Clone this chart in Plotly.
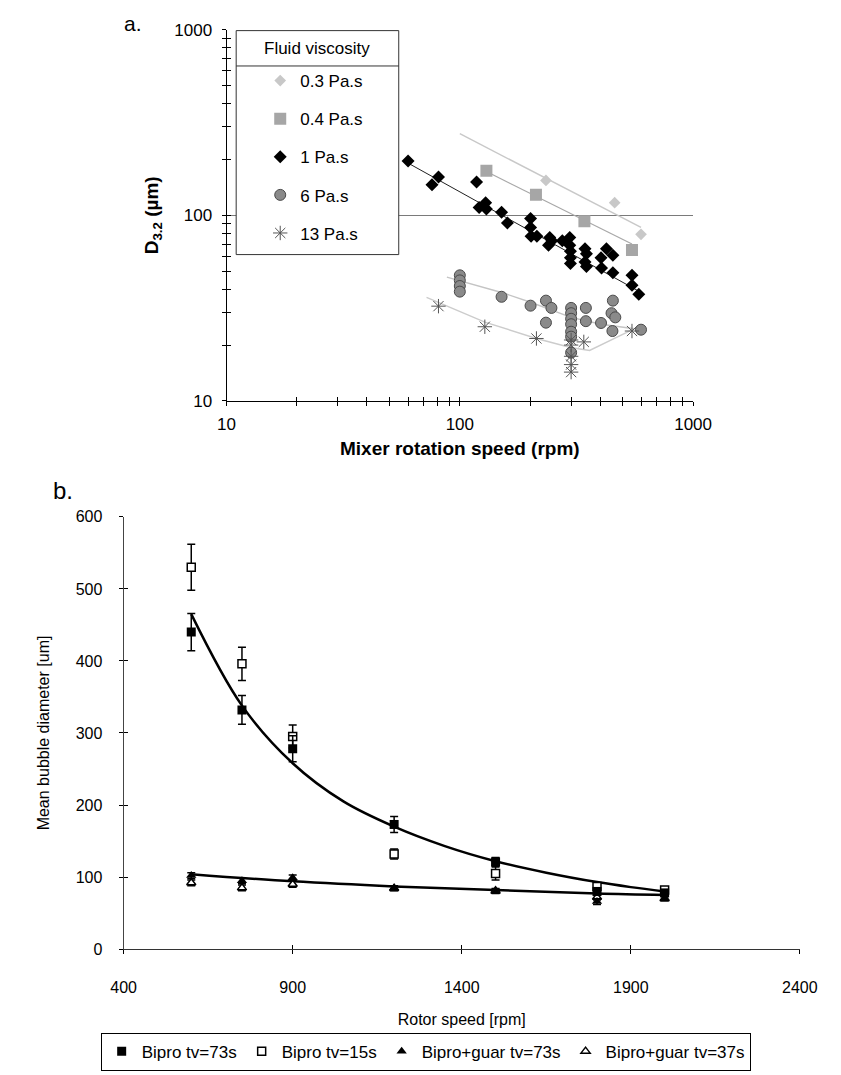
import plotly.graph_objects as go

# ---------------- Panel a data (log-log) ----------------
v03_x = [234, 461, 598]
v03_y = [154, 117, 79]
v03_fit_x = [100, 598]
v03_fit_y = [275, 86]

v04_x = [130, 212, 342, 547]
v04_y = [174, 129, 93, 65]
v04_fit_x = [130, 547]
v04_fit_y = [172, 70]

v1_x = [60, 76, 81, 118, 121, 129, 130, 151, 160, 201, 201, 202, 214, 243, 248, 240,
        275, 296, 296, 298, 298, 298, 344, 349, 344, 349, 403, 425, 453, 405, 453, 547, 547, 585]
v1_y = [196, 146, 161, 151, 110, 117, 108, 104, 91, 96, 86, 77, 77, 76, 73, 69,
        73, 76, 69, 64, 59, 55, 66, 62, 56, 53, 59, 66, 61, 52, 49, 47.5, 42, 37.6]
v1_fit_x = [60, 585]
v1_fit_y = [191, 39]

v6_x = [100, 100, 100, 100, 151, 201, 234, 247, 234, 300, 300, 300, 300, 300, 300, 300,
        347, 347, 403, 453, 447, 464, 451, 598]
v6_y = [47.5, 44.6, 41.6, 38.8, 36.4, 32.6, 34.7, 31.7, 26.4, 31.7, 29.7, 27.7, 25.9, 23.6, 22.2, 18.2,
        31.7, 26.9, 26.3, 34.7, 29.7, 28.2, 23.8, 24.2]
v6_fit_x = [88, 151, 201, 300, 403, 561]
v6_fit_y = [46.4, 38.4, 34.0, 28.2, 25.9, 24.5]

v13_x = [81, 128, 213, 300, 300, 300, 300, 300, 340, 547]
v13_y = [32.4, 25.1, 21.7, 21.3, 20.0, 17.4, 15.7, 14.3, 20.8, 23.8]
v13_fit_x = [72, 128, 213, 298, 360, 561]
v13_fit_y = [36.1, 26.6, 21.7, 19.4, 18.7, 24.5]

a_major = [10, 100, 1000]
a_major_text = ["10", "100", "1000"]
a_all_ticks = [10, 20, 30, 40, 50, 60, 70, 80, 90, 100, 200, 300, 400, 500, 600, 700, 800, 900, 1000]
a_grid = [100, 1000]

# ---------------- Panel b data ----------------
rpm = [600, 750, 900, 1200, 1500, 1800, 2000]
bipro73 = [440, 332, 278, 173, 121, 80, 78]
bipro73_err = [26, 20, 18, 11, 6, 5, 4]
bipro15 = [530, 396, 295, 132, 105, 87, 82]
bipro15_err = [32, 23, 16, 7, 9, 5, 4]
guar73 = [102, 95, 99, 85, 80, 66, 71]
guar73_err = [4, 4, 4, 3, 3, 4, 3]
guar37 = [92, 85, 90, 84, 81, 72, 70]
guar37_err = [4, 4, 4, 3, 3, 4, 3]

fit_rpm = [600, 750, 900, 1050, 1200, 1350, 1500, 1650, 1800, 1900, 2000]
fit_bipro = [465, 338, 258, 205, 170, 143, 122, 106, 93, 86, 80]
fit_guar_rpm = [600, 900, 1200, 1500, 1800, 2000]
fit_guar = [104, 94, 87, 82, 77, 75]

b_xticks = [400, 900, 1400, 1900, 2400]
b_yticks = [0, 100, 200, 300, 400, 500, 600]

W, H = 841, 1075
FA = "Liberation Sans, Arial, sans-serif"
FB = "Liberation Sans Narrow, Liberation Sans, Arial, sans-serif"

def px(x):
    return x / W

def py(y):
    return 1 - y / H

fig = go.Figure()

# ---- panel a traces ----
def fit_line(xs, ys, color, width):
    fig.add_trace(go.Scatter(x=xs, y=ys, mode="lines", line=dict(color=color, width=width),
                             showlegend=False, hoverinfo="skip", xaxis="x", yaxis="y"))

fit_line(v03_fit_x, v03_fit_y, "#c8c8c8", 1.4)
fit_line(v04_fit_x, v04_fit_y, "#a8a8a8", 1.2)
fit_line(v1_fit_x, v1_fit_y, "#202020", 1.0)
fit_line(v6_fit_x, v6_fit_y, "#c4c4c4", 1.4)
fit_line(v13_fit_x, v13_fit_y, "#cccccc", 1.4)

fig.add_trace(go.Scatter(x=v03_x, y=v03_y, mode="markers", name="0.3 Pa.s", legendgroup="g1",
                         marker=dict(symbol="diamond", size=9, color="#c8c8c8"), xaxis="x", yaxis="y"))
fig.add_trace(go.Scatter(x=v04_x, y=v04_y, mode="markers", name="0.4 Pa.s", legendgroup="g2",
                         marker=dict(symbol="square", size=12, color="#a6a6a6"), xaxis="x", yaxis="y"))
fig.add_trace(go.Scatter(x=v1_x, y=v1_y, mode="markers", name="1 Pa.s", legendgroup="g3",
                         marker=dict(symbol="diamond", size=10, color="#000000"), xaxis="x", yaxis="y"))
fig.add_trace(go.Scatter(x=v6_x, y=v6_y, mode="markers", name="6 Pa.s", legendgroup="g4",
                         marker=dict(symbol="circle", size=11, color="#8a8a8a",
                                     line=dict(color="#4a4a4a", width=1)), xaxis="x", yaxis="y"))
fig.add_trace(go.Scatter(x=v13_x, y=v13_y, mode="markers", name="13 Pa.s", legendgroup="g5",
                         marker=dict(symbol="asterisk-open", size=12, color="#555555",
                                     line=dict(color="#555555", width=1)), xaxis="x", yaxis="y"))

# ---- panel b traces ----
fig.add_trace(go.Scatter(x=fit_rpm, y=fit_bipro, mode="lines", line=dict(color="black", width=2.5, shape="spline"),
                         showlegend=False, hoverinfo="skip", xaxis="x2", yaxis="y2"))
fig.add_trace(go.Scatter(x=fit_guar_rpm, y=fit_guar, mode="lines", line=dict(color="black", width=2.5, shape="spline"),
                         showlegend=False, hoverinfo="skip", xaxis="x2", yaxis="y2"))

def eb(arr):
    return dict(type="data", array=arr, visible=True, color="black", thickness=1.5, width=4)

fig.add_trace(go.Scatter(x=rpm, y=bipro15, mode="markers", name="Bipro tv=15s", legend="legend2", legendrank=2,
                         error_y=eb(bipro15_err),
                         marker=dict(symbol="square", size=8, color="white", line=dict(color="black", width=1.5)),
                         xaxis="x2", yaxis="y2"))
fig.add_trace(go.Scatter(x=rpm, y=guar37, mode="markers", name="Bipro+guar tv=37s", legend="legend2", legendrank=4,
                         error_y=eb(guar37_err),
                         marker=dict(symbol="triangle-up", size=8, color="white", line=dict(color="black", width=1.5)),
                         xaxis="x2", yaxis="y2"))
fig.add_trace(go.Scatter(x=rpm, y=bipro73, mode="markers", name="Bipro tv=73s", legend="legend2", legendrank=1,
                         error_y=eb(bipro73_err),
                         marker=dict(symbol="square", size=9, color="black"),
                         xaxis="x2", yaxis="y2"))
fig.add_trace(go.Scatter(x=rpm, y=guar73, mode="markers", name="Bipro+guar tv=73s", legend="legend2", legendrank=3,
                         error_y=eb(guar73_err),
                         marker=dict(symbol="triangle-up", size=9, color="black"),
                         xaxis="x2", yaxis="y2"))

# dummy traces for overlay axes (tick decorations / grid)
for xa, ya in [("x3", "y3"), ("x5", "y5"), ("x3", "y7"), ("x4", "y4")]:
    fig.add_trace(go.Scatter(x=[], y=[], showlegend=False, hoverinfo="skip", xaxis=xa, yaxis=ya))

dom_ax = [px(222), px(707)]
dom_ay = [py(399), py(21)]
dom_bx = [px(115), px(818)]
dom_by = [py(957), py(517)]

tick_a = dict(family=FA, size=17, color="black")
tick_b = dict(family=FB, size=16, color="black")

def deco_x(overlay, anchor, dom, ticks, tickvals, typ=None, rng=None):
    d = dict(domain=dom, anchor=anchor, overlaying=overlay, tickvals=tickvals, ticks=ticks, ticklen=4,
             tickcolor="black", showticklabels=False, showline=False, showgrid=False, zeroline=False, range=rng)
    if typ:
        d["type"] = typ
    return d

fig.update_layout(
    width=W, height=H,
    margin=dict(l=0, r=0, t=0, b=0),
    paper_bgcolor="white", plot_bgcolor="rgba(0,0,0,0)",
    font=dict(family=FA, color="black"),
    xaxis=dict(domain=dom_ax, anchor="y", type="log", range=[1, 3], tickvals=a_major, ticktext=a_major_text,
               ticks="outside", ticklen=4, tickcolor="black", showline=True, linecolor="black", linewidth=1,
               showgrid=False, zeroline=False, tickfont=tick_a, ticklabelstandoff=4,
               title=dict(text="<b>Mixer rotation speed (rpm)</b>", font=dict(family=FA, size=19), standoff=8)),
    yaxis=dict(domain=dom_ay, anchor="x", type="log", range=[1, 3], tickvals=a_major, ticktext=a_major_text,
               ticks="outside", ticklen=4, tickcolor="black", showline=True, linecolor="black", linewidth=1,
               showgrid=False, zeroline=False, tickfont=tick_a, ticklabelstandoff=6,
               title=dict(text="<b>D<sub>3.2</sub> (µm)</b>", font=dict(family=FA, size=19), standoff=10)),
    # crossing ticks for panel a: inside + outside overlays
    xaxis3=deco_x("x", "y", dom_ax, "inside", a_all_ticks, "log", [1, 3]),
    yaxis3=deco_x("y", "x", dom_ay, "inside", a_all_ticks, "log", [1, 3]),
    xaxis5=deco_x("x", "y", dom_ax, "outside", a_all_ticks, "log", [1, 3]),
    yaxis5=deco_x("y", "x", dom_ay, "outside", a_all_ticks, "log", [1, 3]),
    yaxis7=dict(domain=dom_ay, anchor="x", overlaying="y", type="log", range=[1, 3], tickvals=a_grid,
                ticks="", showticklabels=False, showline=False, showgrid=True, gridcolor="#7a7a7a",
                gridwidth=1, zeroline=False),
    xaxis2=dict(domain=dom_bx, anchor="y2", range=[400, 2400], tickvals=b_xticks,
                ticks="outside", ticklen=4, tickcolor="black", showline=True, linecolor="#333333", linewidth=1,
                showgrid=False, zeroline=False, tickfont=tick_b, ticklabelstandoff=20,
                title=dict(text="Rotor speed [rpm]", font=dict(family=FB, size=16), standoff=18)),
    yaxis2=dict(domain=dom_by, anchor="x2", range=[0, 600], tickvals=b_yticks,
                ticks="outside", ticklen=4, tickcolor="black", showline=True, linecolor="#444444", linewidth=1,
                showgrid=False, zeroline=False, tickfont=tick_b, ticklabelstandoff=13,
                title=dict(text="Mean bubble diameter [um]", font=dict(family=FB, size=16), standoff=22)),
    xaxis4=deco_x("x2", "y2", dom_bx, "inside", b_xticks, None, [400, 2400]),
    yaxis4=deco_x("y2", "x2", dom_by, "inside", b_yticks, None, [0, 600]),
    legend=dict(x=px(257), y=py(55), xanchor="left", yanchor="top", bgcolor="rgba(0,0,0,0)", borderwidth=0,
                font=dict(family=FA, size=17), tracegroupgap=13),
    legend2=dict(x=px(429), y=py(1042), xanchor="center", yanchor="top", orientation="h",
                 bgcolor="white", bordercolor="black", borderwidth=1, itemwidth=30,
                 font=dict(family=FB, size=17), traceorder="normal"),
    shapes=[
        dict(type="rect", xref="paper", yref="paper", x0=px(232), x1=px(401), y0=py(250), y1=py(22),
             line=dict(color="#333333", width=1), fillcolor="white", layer="above"),
        dict(type="line", xref="paper", yref="paper", x0=px(232), x1=px(401), y0=py(58), y1=py(58),
             line=dict(color="#333333", width=1), layer="above"),
    ],
    annotations=[
        dict(text="Fluid viscosity", x=px(316.5), y=py(40), xref="paper", yref="paper", showarrow=False,
             font=dict(family=FA, size=17), xanchor="center", yanchor="middle"),
        dict(text="a.", x=px(125), y=py(15), xref="paper", yref="paper", showarrow=False,
             font=dict(family=FA, size=21), xanchor="center", yanchor="middle"),
        dict(text="b.", x=px(52), y=py(490), xref="paper", yref="paper", showarrow=False,
             font=dict(family=FA, size=24), xanchor="center", yanchor="middle"),
    ],
)

fig.write_html("out.html")
